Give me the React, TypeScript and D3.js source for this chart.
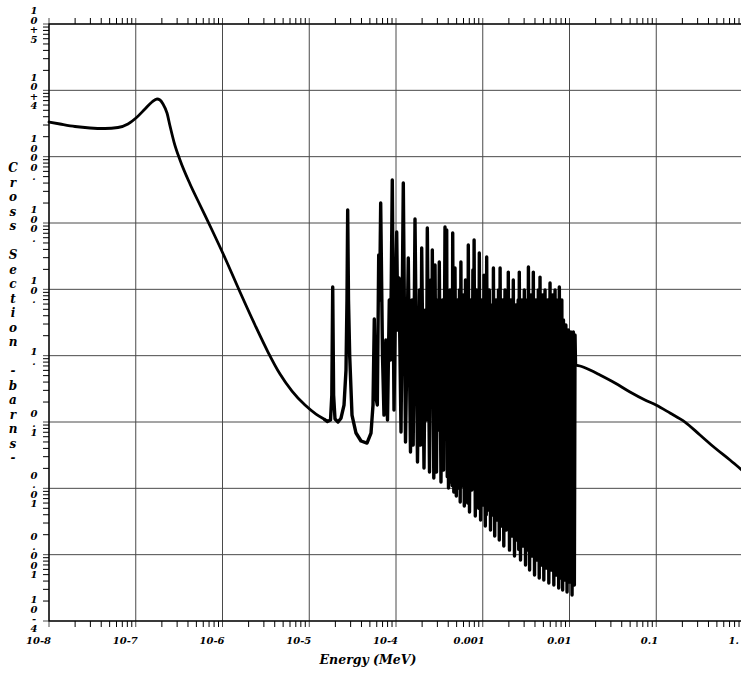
import React from "react";
import * as d3 from "d3";

// Smooth thermal / epithermal region (MeV, barns)
const lowE = [1e-8, 1.339e-8, 1.994e-8, 2.969e-8, 4.42e-8, 6.244e-8, 8.14e-8, 1.007e-7, 1.278e-7, 1.539e-7, 1.758e-7, 1.903e-7, 2.061e-7, 2.292e-7, 2.483e-7, 2.76e-7, 3.236e-7, 4.221e-7, 5.504e-7, 7.568e-7, 1.069e-6, 1.591e-6, 2.369e-6, 3.345e-6, 4.601e-6, 6.328e-6, 8.935e-6, 1.196e-5, 1.479e-5];
const lowSigma = [3331, 3108, 2849, 2705, 2658, 2752, 3108, 3826, 5230, 6670, 7402, 7150, 6221, 4551, 2898, 1663, 890, 387, 186.7, 78.4, 29.7, 9.11, 2.9, 1.135, 0.529, 0.2932, 0.1803, 0.1319, 0.1109];

// Resolved resonance region (MeV, barns)
const resE = [1.623e-5, 1.758e-5, 1.82e-5, 1.864e-5, 1.909e-5, 1.981e-5, 2.145e-5, 2.323e-5, 2.516e-5, 2.652e-5, 2.723e-5, 2.774e-5, 2.834e-5, 2.926e-5, 3.11e-5, 3.459e-5, 3.95e-5, 4.63e-5, 5.15e-5, 5.43e-5, 5.62e-5, 5.8e-5, 6.09e-5, 6.32e-5, 6.47e-5, 6.66e-5, 6.99e-5, 7.27e-5, 7.63e-5, 7.98e-5, 8.37e-5, 8.64e-5, 9.06e-5, 9.48e-5, 9.87e-5, 1.019e-4, 1.049e-4, 1.083e-4, 1.142e-4, 1.214e-4, 1.287e-4, 1.386e-4, 1.469e-4, 1.529e-4, 1.578e-4, 1.656e-4, 1.769e-4, 1.866e-4, 1.921e-4, 1.978e-4, 2.103e-4, 2.188e-4, 2.241e-4, 2.296e-4, 2.433e-4, 2.519e-4, 2.573e-4, 2.622e-4, 2.728e-4, 2.817e-4, 2.93e-4, 3.008e-4, 3.073e-4, 3.155e-4, 3.3e-4, 3.436e-4, 3.538e-4, 3.672e-4, 3.761e-4, 3.841e-4, 3.9e-4, 3.96e-4, 4.029e-4, 4.193e-4, 4.306e-4, 4.37e-4, 4.44e-4, 4.505e-4, 4.639e-4, 4.788e-4, 4.957e-4, 5.117e-4, 5.255e-4, 5.395e-4, 5.497e-4, 5.599e-4, 5.765e-4, 5.953e-4, 6.128e-4, 6.327e-4, 6.531e-4, 6.62e-4, 6.7e-4, 6.814e-4, 7.035e-4, 7.282e-4, 7.478e-4, 7.7e-4, 7.823e-4, 7.949e-4, 8.206e-4, 8.472e-4, 8.724e-4, 8.85e-4, 8.98e-4, 9.126e-4, 9.445e-4, 9.75e-4, 1.004e-3, 1.034e-3, 1.07e-3, 1.085e-3, 1.097e-3, 1.11e-3, 1.149e-3, 1.189e-3, 1.228e-3, 1.271e-3, 1.299e-3, 1.327e-3, 1.373e-3, 1.422e-3, 1.468e-3, 1.519e-3, 1.551e-3, 1.585e-3, 1.636e-3, 1.694e-3, 1.748e-3, 1.805e-3, 1.869e-3, 1.919e-3, 1.945e-3, 1.97e-3, 2.034e-3, 2.104e-3, 2.173e-3, 2.25e-3, 2.323e-3, 2.404e-3, 2.482e-3, 2.56e-3, 2.6e-3, 2.638e-3, 2.724e-3, 2.82e-3, 2.91e-3, 3.013e-3, 3.111e-3, 3.22e-3, 3.29e-3, 3.36e-3, 3.468e-3, 3.581e-3, 3.698e-3, 3.828e-3, 3.952e-3, 4.091e-3, 4.223e-3, 4.371e-3, 4.477e-3, 4.573e-3, 4.733e-3, 4.899e-3, 5.058e-3, 5.222e-3, 5.405e-3, 5.595e-3, 5.777e-3, 5.965e-3, 6.173e-3, 6.39e-3, 6.598e-3, 6.811e-3, 7.05e-3, 7.297e-3, 7.505e-3, 7.634e-3, 7.882e-3, 8.159e-3, 8.337e-3, 8.517e-3, 8.769e-3, 9.077e-3, 9.371e-3, 9.701e-3, 1.0014e-2, 1.0366e-2, 1.07e-2, 1.108e-2, 1.1376e-2, 1.158e-2];
const resSigma = [0.1017, 0.107, 0.255, 10.84, 0.255, 0.111, 0.1, 0.114, 0.18, 0.607, 6.9, 157, 6.9, 0.988, 0.1274, 0.0682, 0.0517, 0.0482, 0.0682, 0.18, 3.57, 0.255, 0.18, 32.9, 6.9, 200, 0.988, 0.127, 1.72, 0.107, 6.9, 0.86, 445, 0.1516, 6.9, 73.1, 2.44, 14.8, 0.0706, 401, 0.0499, 29.7, 0.0353, 6.9, 0.045, 115, 0.0249, 9.77, 0.045, 42.0, 0.0202, 4.88, 0.107, 84.0, 0.0176, 13.8, 0.2145, 39.2, 0.0143, 23.3, 0.0176, 6.9, 0.0757, 25.8, 0.01245, 6.9, 0.0189, 87.0, 1.216, 78.4, 0.015, 6.9, 0.0101, 9.77, 0.01245, 5.8, 0.011, 70.7, 0.0088, 20.96, 0.00766, 6.9, 0.0101, 9.77, 0.00622, 25.8, 0.01083, 8.21, 0.0054, 13.8, 0.00766, 6.9, 0.006, 46.6, 0.00439, 6.9, 0.00943, 19.6, 0.0757, 55.4, 0.00382, 9.77, 0.00666, 8.21, 0.005, 35.3, 0.00333, 6.9, 0.0056, 16.4, 0.0027, 6.9, 0.004, 30.7, 0.00471, 9.77, 0.00235, 5.8, 0.00396, 20.96, 0.00191, 6.9, 0.00333, 9.77, 0.00166, 20.96, 0.0027, 6.9, 0.00135, 9.77, 0.00235, 4.88, 0.0025, 18.2, 0.00117, 6.9, 0.00191, 13.8, 0.000954, 5.8, 0.00166, 6.9, 0.0012, 18.2, 0.00083, 6.9, 0.00135, 9.77, 0.000698, 6.9, 0.00117, 21.7, 0.000587, 8.21, 0.000954, 18.2, 0.000493, 6.9, 0.00083, 9.77, 0.000444, 15.3, 0.000698, 8.21, 0.000415, 9.77, 0.000629, 6.9, 0.000374, 12.45, 0.000587, 8.21, 0.000349, 9.77, 0.000493, 6.9, 0.000314, 10.84, 0.000444, 6.9, 0.000293, 3.45, 0.000415, 2.9, 0.000273, 2.44, 0.000387, 2.27, 0.000246, 2.27, 0.000349, 2.05];

// Smooth fast region (MeV, barns)
const highE = [1.173e-2, 1.321e-2, 1.722e-2, 2.246e-2, 3.345e-2, 4.982e-2, 7.42e-2, 9.93e-2, 0.1441, 0.2145, 0.3194, 0.4756, 0.708, 1.0];
const highSigma = [0.723, 0.698, 0.6075, 0.511, 0.3871, 0.2831, 0.2145, 0.1803, 0.1366, 0.0999, 0.0637, 0.0405, 0.0267, 0.01824];

const xTickValues = [1e-8, 1e-7, 1e-6, 1e-5, 1e-4, 1e-3, 1e-2, 1e-1, 1];
const xTickLabels = ["10-8", "10-7", "10-6", "10-5", "10-4", "0.001", "0.01", "0.1", "1."];
const yTickValues = [1e5, 1e4, 1e3, 1e2, 1e1, 1, 1e-1, 1e-2, 1e-3, 1e-4];
const yTickLabels = ["10+5", "10+4", "1000.", "100.", "10.", "1.", "0.1", "0.01", "0.001", "10-4"];
const yTitle = "Cross Section -barns-";
const xTitle = "Energy (MeV)";

const FONT = "'DejaVu Serif', 'Liberation Serif', serif";

type P = [number, number];

export default function App() {
  const W = 741, H = 673;
  const left = 49, right = 743, top = 24, bottom = 621;
  const x = d3.scaleLog().domain([1e-8, 1]).range([left, right]);
  const y = d3.scaleLog().domain([1e-4, 1e5]).range([bottom, top]);

  const lowPts: P[] = lowE.map((e, i) => [e, lowSigma[i]]);
  const resPts: P[] = resE.map((e, i) => [e, resSigma[i]]);
  const highPts: P[] = highE.map((e, i) => [e, highSigma[i]]);

  const smooth = d3.line<P>().x(d => x(d[0])).y(d => y(d[1])).curve(d3.curveMonotoneX);
  const straight = d3.line<P>().x(d => x(d[0])).y(d => y(d[1]));

  const resPath: P[] = [lowPts[lowPts.length - 1], ...resPts, highPts[0]];

  const xMinor: number[] = [];
  for (let k = -8; k < 0; k++) for (let m = 2; m <= 9; m++) xMinor.push(m * Math.pow(10, k));
  const yMinor: number[] = [];
  for (let k = -4; k < 5; k++) for (let m = 2; m <= 9; m++) yMinor.push(m * Math.pow(10, k));

  const tl = 6;
  const pitch = 9.5;
  const xLabelBase = 644;
  const lbl = { fontFamily: FONT, fontStyle: "italic", fontWeight: "bold", fill: "#000" } as const;

  return (
    <svg width={W} height={H} style={{ position: "absolute", left: 0, top: 0, background: "#fff" }}>
      <rect x={0} y={0} width={W} height={H} fill="#fff" />
      {/* grid */}
      {xTickValues.map((v, i) => (
        <line key={"gx" + i} x1={x(v)} x2={x(v)} y1={top - tl} y2={bottom + tl} stroke="#4a4a4a" strokeWidth={1} />
      ))}
      {yTickValues.map((v, i) => (
        <line key={"gy" + i} x1={left - tl} x2={right} y1={y(v)} y2={y(v)} stroke="#4a4a4a" strokeWidth={1} />
      ))}
      {/* minor ticks */}
      {xMinor.map((v, i) => (
        <g key={"mx" + i}>
          <line x1={x(v)} x2={x(v)} y1={bottom} y2={bottom + tl} stroke="#000" strokeWidth={1} />
          <line x1={x(v)} x2={x(v)} y1={top} y2={top - tl} stroke="#000" strokeWidth={1} />
        </g>
      ))}
      {yMinor.map((v, i) => (
        <g key={"my" + i}>
          <line x1={left - tl} x2={left} y1={y(v)} y2={y(v)} stroke="#000" strokeWidth={1} />
          <line x1={right} x2={right + tl} y1={y(v)} y2={y(v)} stroke="#000" strokeWidth={1} />
        </g>
      ))}
      {/* frame */}
      <rect x={left} y={top} width={right - left} height={bottom - top} fill="none" stroke="#000" strokeWidth={1.3} />
      {/* curve */}
      <path d={smooth(lowPts) || ""} fill="none" stroke="#000" strokeWidth={2.8} strokeLinejoin="round" strokeLinecap="round" />
      <path d={straight(resPath) || ""} fill="none" stroke="#000" strokeWidth={3.4} strokeLinejoin="round" />
      <path d={smooth(highPts) || ""} fill="none" stroke="#000" strokeWidth={2.8} strokeLinejoin="round" strokeLinecap="round" />
      {/* x labels */}
      {xTickValues.map((v, i) => (
        <text key={"xl" + i} x={Math.min(x(v) + 2, 739)} y={xLabelBase} textAnchor="end" fontSize={10} {...lbl}>
          {xTickLabels[i]}
        </text>
      ))}
      {/* y labels, stacked vertically */}
      {yTickValues.map((v, i) => {
        const s = yTickLabels[i];
        const n = s.length;
        const base = (j: number) => y(v) + 1 + (j - (n - 1) / 2) * pitch + 3.5;
        const shift = Math.min(0, xLabelBase - 12.5 - base(n - 1));
        return (
          <g key={"yl" + i}>
            {s.split("").map((c, j) => (
              <text key={j} x={34} y={base(j) + shift} textAnchor="middle" fontSize={10} {...lbl}>
                {c}
              </text>
            ))}
          </g>
        );
      })}
      {/* y title, stacked */}
      {yTitle.split("").map((c, j) => (
        <text key={"yt" + j} x={13} y={168 + j * 14.5 + 4} textAnchor="middle" fontSize={12} {...lbl}>
          {c}
        </text>
      ))}
      <text x={368} y={664} textAnchor="middle" fontSize={12.5} {...lbl}>
        {xTitle}
      </text>
    </svg>
  );
}
